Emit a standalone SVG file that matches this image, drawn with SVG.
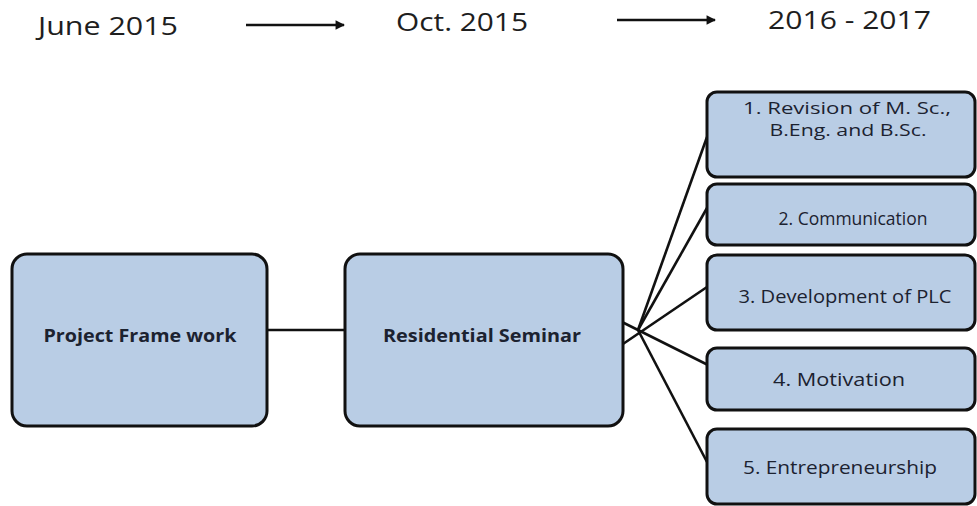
<svg xmlns="http://www.w3.org/2000/svg" width="977" height="506" viewBox="0 0 977 506">
<defs>
<marker id="ah" viewBox="0 0 10 10" refX="9" refY="5" markerWidth="4" markerHeight="3.6" orient="auto" markerUnits="strokeWidth">
<path d="M0,0 L10,5 L0,10 z" fill="#111"/>
</marker>
</defs>
<style>
.box{fill:#b9cde5;stroke:#111;stroke-width:3}
.con{stroke:#111;stroke-width:2.6;fill:none}
.top{font-family:"Open Sans","Liberation Sans",sans-serif;font-size:26px;fill:#1e1e1e}
.big{font-family:"Open Sans","Liberation Sans",sans-serif;font-size:17.5px;font-weight:bold;fill:#1c2230;text-anchor:middle}
.sm{font-family:"Open Sans","Liberation Sans",sans-serif;font-size:17.5px;fill:#1c2230;text-anchor:middle}
.two{font-size:16px}
</style>
<rect width="977" height="506" fill="#fff"/>
<g id="timeline">
<text class="top" x="38" y="35" textLength="140" lengthAdjust="spacingAndGlyphs">June 2015</text>
<text class="top" x="396" y="31" textLength="132" lengthAdjust="spacingAndGlyphs">Oct. 2015</text>
<text class="top" x="768" y="29" textLength="163" lengthAdjust="spacingAndGlyphs">2016 - 2017</text>
<line class="con" x1="246" y1="25" x2="344" y2="25" stroke-width="3" marker-end="url(#ah)"/>
<line class="con" x1="617" y1="20" x2="715" y2="20" stroke-width="3" marker-end="url(#ah)"/>
</g>
<g id="connectors">
<line class="con" x1="267" y1="330" x2="345" y2="330"/>
<line class="con" x1="620" y1="321" x2="708" y2="365"/>
<line class="con" x1="620" y1="346" x2="707" y2="287"/>
<line class="con" x1="638" y1="330" x2="707" y2="137"/>
<line class="con" x1="638" y1="330" x2="707" y2="208"/>
<line class="con" x1="638" y1="330" x2="707" y2="462"/>
</g>
<g id="project-frame-work">
<rect class="box" x="12" y="254" width="255" height="172" rx="15"/>
<text class="big" x="140" y="342" textLength="193" lengthAdjust="spacingAndGlyphs">Project Frame work</text>
</g>
<g id="residential-seminar">
<rect class="box" x="345" y="254" width="278" height="172" rx="15"/>
<text class="big" x="482" y="342" textLength="198" lengthAdjust="spacingAndGlyphs">Residential Seminar</text>
</g>
<g id="revision">
<rect class="box" x="707" y="92" width="268" height="85" rx="10"/>
<text class="sm two" x="847" y="114" textLength="208" lengthAdjust="spacingAndGlyphs">1.  Revision of M. Sc.,</text>
<text class="sm two" x="848" y="136" textLength="157" lengthAdjust="spacingAndGlyphs">B.Eng. and B.Sc.</text>
</g>
<g id="communication">
<rect class="box" x="707" y="184" width="268" height="61" rx="10"/>
<text class="sm" x="853" y="225" textLength="149" lengthAdjust="spacingAndGlyphs">2. Communication</text>
</g>
<g id="plc">
<rect class="box" x="707" y="255" width="268" height="75" rx="10"/>
<text class="sm" x="845" y="303" textLength="213" lengthAdjust="spacingAndGlyphs">3. Development of PLC</text>
</g>
<g id="motivation">
<rect class="box" x="707" y="348" width="268" height="62" rx="10"/>
<text class="sm" x="839" y="386" textLength="132" lengthAdjust="spacingAndGlyphs">4. Motivation</text>
</g>
<g id="entrepreneurship">
<rect class="box" x="707" y="429" width="268" height="75" rx="10"/>
<text class="sm" x="840" y="474" textLength="194" lengthAdjust="spacingAndGlyphs">5. Entrepreneurship</text>
</g>
</svg>
